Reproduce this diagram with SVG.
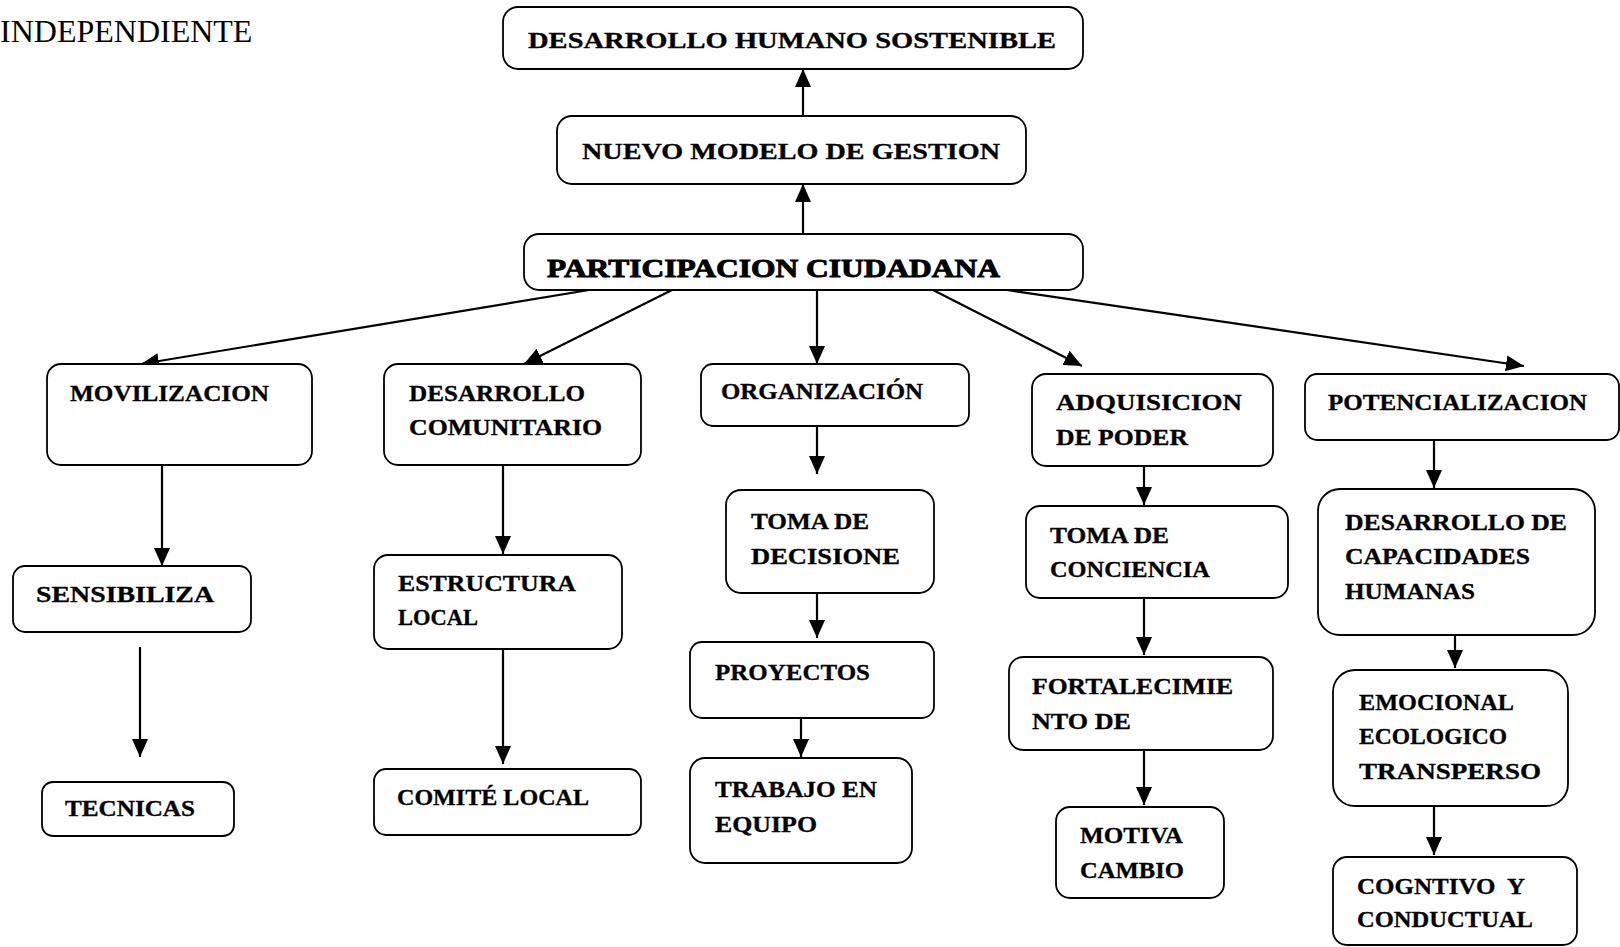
<svg xmlns="http://www.w3.org/2000/svg" width="1620" height="947" viewBox="0 0 1620 947">
<style>
.bx{fill:#fff;stroke:#000;stroke-width:1.8}
.t{font-family:"Liberation Serif","DejaVu Serif",serif;font-weight:bold;font-size:23px;fill:#000;stroke:#000;stroke-width:0.3}
.big{font-size:26px;stroke-width:0.9}
.c line{stroke:#000;stroke-width:2.2;marker-end:url(#ah)}
.plain{font-family:"Liberation Serif","Times New Roman",serif;font-size:32px;fill:#000}
</style>
<defs>
<marker id="ah" viewBox="0 0 18 16" refX="18" refY="8" markerWidth="18" markerHeight="16" markerUnits="userSpaceOnUse" orient="auto"><path d="M0,0 L18,8 L0,16 z" fill="#000"/></marker>
</defs>
<rect width="1620" height="947" fill="#fff"/>
<text class="plain" x="0" y="42">INDEPENDIENTE</text>

<g class="c" id="connectors">
<line x1="803" y1="116" x2="803" y2="69"/>
<line x1="803" y1="234" x2="803" y2="184"/>
<line x1="589" y1="290" x2="141" y2="364"/>
<line x1="672" y1="290" x2="524" y2="364"/>
<line x1="817" y1="290" x2="817" y2="364"/>
<line x1="933" y1="290" x2="1082" y2="366"/>
<line x1="1007" y1="290" x2="1524" y2="366"/>
<line x1="162" y1="465" x2="162" y2="566"/>
<line x1="140" y1="647" x2="140" y2="757"/>
<line x1="503" y1="465" x2="503" y2="554"/>
<line x1="503" y1="649" x2="503" y2="764"/>
<line x1="817" y1="426" x2="817" y2="474"/>
<line x1="817" y1="593" x2="817" y2="638"/>
<line x1="801" y1="700" x2="801" y2="757"/>
<line x1="1144" y1="455" x2="1144" y2="505"/>
<line x1="1144" y1="598" x2="1144" y2="655"/>
<line x1="1144" y1="750" x2="1144" y2="805"/>
<line x1="1434" y1="440" x2="1434" y2="488"/>
<line x1="1455" y1="635" x2="1455" y2="668"/>
<line x1="1434" y1="806" x2="1434" y2="855"/>
</g>

<g id="n-dhs"><rect class="bx" x="503" y="7" width="580" height="62" rx="15"/><text class="t" x="528" y="48" textLength="528" lengthAdjust="spacingAndGlyphs">DESARROLLO HUMANO SOSTENIBLE</text></g>
<g id="n-nmg"><rect class="bx" x="557" y="116" width="469" height="68" rx="15"/><text class="t" x="582" y="159" textLength="418" lengthAdjust="spacingAndGlyphs">NUEVO MODELO DE GESTION</text></g>
<g id="n-pc"><rect class="bx" x="524" y="234" width="559" height="56" rx="15"/><text class="t big" x="547" y="277" textLength="453" lengthAdjust="spacingAndGlyphs">PARTICIPACION CIUDADANA</text></g>

<g id="n-mov"><rect class="bx" x="47" y="364" width="265" height="101" rx="14"/><text class="t" x="70" y="401" textLength="199" lengthAdjust="spacingAndGlyphs">MOVILIZACION</text></g>
<g id="n-dc"><rect class="bx" x="384" y="364" width="257" height="101" rx="14"/><text class="t" x="409" y="401" textLength="176" lengthAdjust="spacingAndGlyphs">DESARROLLO</text><text class="t" x="409" y="435" textLength="193" lengthAdjust="spacingAndGlyphs">COMUNITARIO</text></g>
<g id="n-org"><rect class="bx" x="701" y="364" width="268" height="62" rx="12"/><text class="t" x="721" y="399" textLength="202" lengthAdjust="spacingAndGlyphs">ORGANIZACIÓN</text></g>
<g id="n-adq"><rect class="bx" x="1032" y="374" width="241" height="92" rx="14"/><text class="t" x="1056" y="410" textLength="186" lengthAdjust="spacingAndGlyphs">ADQUISICION</text><text class="t" x="1056" y="445" textLength="132" lengthAdjust="spacingAndGlyphs">DE PODER</text></g>
<g id="n-pot"><rect class="bx" x="1305" y="374" width="314" height="66" rx="12"/><text class="t" x="1328" y="410" textLength="259" lengthAdjust="spacingAndGlyphs">POTENCIALIZACION</text></g>

<g id="n-sen"><rect class="bx" x="13" y="566" width="238" height="66" rx="12"/><text class="t" x="36" y="602" textLength="178" lengthAdjust="spacingAndGlyphs">SENSIBILIZA</text></g>
<g id="n-tec"><rect class="bx" x="42" y="782" width="192" height="54" rx="11"/><text class="t" x="65" y="816" textLength="130" lengthAdjust="spacingAndGlyphs">TECNICAS</text></g>

<g id="n-est"><rect class="bx" x="374" y="555" width="248" height="94" rx="14"/><text class="t" x="398" y="591" textLength="178" lengthAdjust="spacingAndGlyphs">ESTRUCTURA</text><text class="t" x="398" y="625" textLength="80" lengthAdjust="spacingAndGlyphs">LOCAL</text></g>
<g id="n-com"><rect class="bx" x="374" y="769" width="267" height="66" rx="12"/><text class="t" x="397" y="805" textLength="192" lengthAdjust="spacingAndGlyphs">COMITÉ LOCAL</text></g>

<g id="n-tdd"><rect class="bx" x="726" y="490" width="208" height="103" rx="15"/><text class="t" x="751" y="529" textLength="118" lengthAdjust="spacingAndGlyphs">TOMA DE</text><text class="t" x="751" y="564" textLength="149" lengthAdjust="spacingAndGlyphs">DECISIONE</text></g>
<g id="n-pro"><rect class="bx" x="690" y="642" width="244" height="76" rx="12"/><text class="t" x="715" y="680" textLength="155" lengthAdjust="spacingAndGlyphs">PROYECTOS</text></g>
<g id="n-tra"><rect class="bx" x="690" y="758" width="222" height="105" rx="15"/><text class="t" x="715" y="797" textLength="162" lengthAdjust="spacingAndGlyphs">TRABAJO EN</text><text class="t" x="715" y="832" textLength="102" lengthAdjust="spacingAndGlyphs">EQUIPO</text></g>

<g id="n-tdc"><rect class="bx" x="1026" y="506" width="262" height="92" rx="14"/><text class="t" x="1050" y="543" textLength="119" lengthAdjust="spacingAndGlyphs">TOMA DE</text><text class="t" x="1050" y="577" textLength="160" lengthAdjust="spacingAndGlyphs">CONCIENCIA</text></g>
<g id="n-for"><rect class="bx" x="1009" y="657" width="264" height="93" rx="14"/><text class="t" x="1032" y="694" textLength="201" lengthAdjust="spacingAndGlyphs">FORTALECIMIE</text><text class="t" x="1032" y="729" textLength="99" lengthAdjust="spacingAndGlyphs">NTO DE</text></g>
<g id="n-mot"><rect class="bx" x="1056" y="807" width="168" height="91" rx="14"/><text class="t" x="1080" y="843" textLength="103" lengthAdjust="spacingAndGlyphs">MOTIVA</text><text class="t" x="1080" y="878" textLength="104" lengthAdjust="spacingAndGlyphs">CAMBIO</text></g>

<g id="n-dch"><rect class="bx" x="1318" y="489" width="277" height="146" rx="22"/><text class="t" x="1345" y="530" textLength="222" lengthAdjust="spacingAndGlyphs">DESARROLLO DE</text><text class="t" x="1345" y="564" textLength="185" lengthAdjust="spacingAndGlyphs">CAPACIDADES</text><text class="t" x="1345" y="599" textLength="130" lengthAdjust="spacingAndGlyphs">HUMANAS</text></g>
<g id="n-emo"><rect class="bx" x="1333" y="670" width="235" height="136" rx="22"/><text class="t" x="1359" y="710" textLength="155" lengthAdjust="spacingAndGlyphs">EMOCIONAL</text><text class="t" x="1359" y="744" textLength="148" lengthAdjust="spacingAndGlyphs">ECOLOGICO</text><text class="t" x="1359" y="779" textLength="182" lengthAdjust="spacingAndGlyphs">TRANSPERSO</text></g>
<g id="n-cog"><rect class="bx" x="1333" y="857" width="244" height="88" rx="14"/><text class="t" x="1357" y="894" textLength="168" lengthAdjust="spacingAndGlyphs" xml:space="preserve">COGNTIVO  Y</text><text class="t" x="1357" y="927" textLength="176" lengthAdjust="spacingAndGlyphs">CONDUCTUAL</text></g>
</svg>
